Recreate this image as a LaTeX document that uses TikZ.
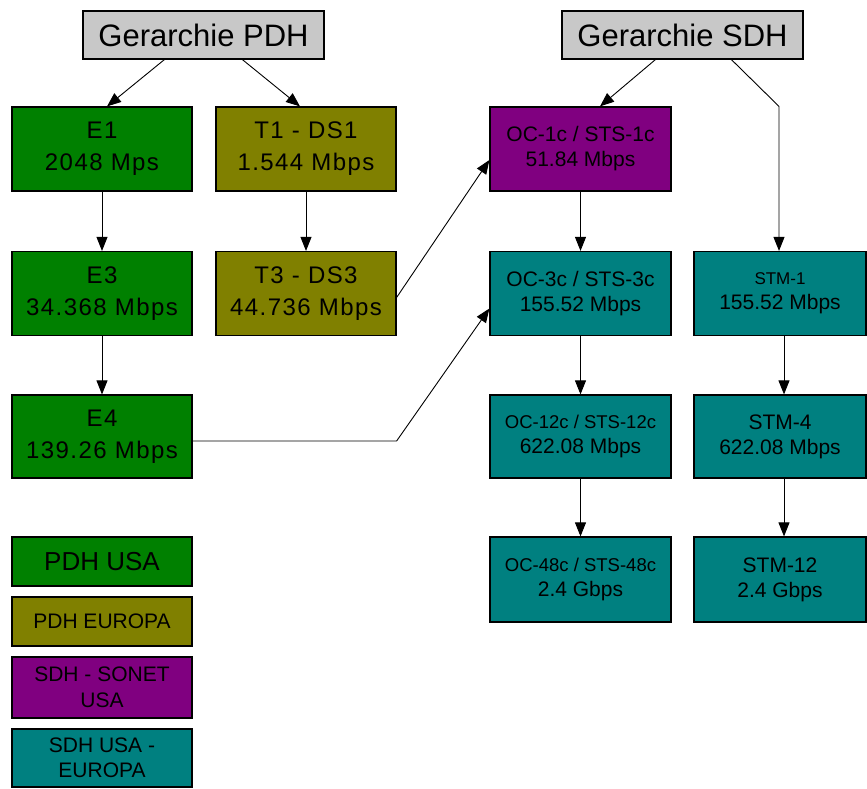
\documentclass[tikz,border=0pt]{standalone}
\usepackage{fontspec}
\setmainfont{Liberation Sans}
\newfontfamily\spacedfont[LetterSpace=6]{Liberation Sans}
\usetikzlibrary{arrows.meta,calc}
\definecolor{hdrgray}{RGB}{200,200,200}
\definecolor{pdhgreen}{RGB}{0,128,0}
\definecolor{pdholive}{RGB}{128,128,0}
\definecolor{sonetpurple}{RGB}{128,0,128}
\definecolor{sdhteal}{RGB}{0,128,128}
\tikzset{
  box/.style={draw=black, line width=1.2pt, inner sep=0pt, align=center, text=black},
  hdr/.style={box, fill=hdrgray, minimum width=241pt, minimum height=48pt,
    font=\fontsize{31}{36}\selectfont},
  pdhbox/.style={box, minimum width=180pt, minimum height=84pt,
    font=\spacedfont\fontsize{24}{32}\selectfont},
  sdhbox/.style={box, minimum height=84pt,
    font=\fontsize{21}{25}\selectfont},
  legendbox/.style={box, minimum width=180pt, font=\fontsize{21}{26}\selectfont},
  conn/.style={draw=black, line width=0.9pt},
  arr/.style={conn, -{Triangle[width=11pt,length=14pt]}},
}
\begin{document}
\begin{tikzpicture}[x=1pt,y=-1pt]
\useasboundingbox (0,0) rectangle (867,789);
% headers
\node[hdr] (pdh) at (203.5,35) {Gerarchie PDH};
\node[hdr] (sdh) at (682.5,35) {Gerarchie SDH};
% PDH column
\node[pdhbox, fill=pdhgreen] (e1) at (102,149) {E1\\2048 Mps};
\node[pdhbox, fill=pdholive] (t1) at (306,149) {T1 - DS1\\1.544 Mbps};
\node[pdhbox, fill=pdhgreen] (e3) at (102,293.5) {E3\\34.368 Mbps};
\node[pdhbox, fill=pdholive] (t3) at (306,293.5) {T3 - DS3\\44.736 Mbps};
\node[pdhbox, fill=pdhgreen, minimum height=83pt] (e4) at (102,436.5) {E4\\139.26 Mbps};
% SDH column
\node[sdhbox, fill=sonetpurple, minimum width=181pt] (oc1) at (580.5,149) {OC-1c / STS-1c\\51.84 Mbps};
\node[sdhbox, fill=sdhteal, minimum width=181pt] (oc3) at (580.5,293.5) {OC-3c / STS-3c\\155.52 Mbps};
\node[sdhbox, fill=sdhteal, minimum width=181pt, minimum height=83pt] (oc12) at (580.5,436.5) {{\fontsize{18.5}{25}\selectfont OC-12c / STS-12c}\\622.08 Mbps};
\node[sdhbox, fill=sdhteal, minimum width=181pt, minimum height=85pt] (oc48) at (580.5,579.5) {{\fontsize{18.5}{25}\selectfont OC-48c / STS-48c}\\2.4 Gbps};
\node[sdhbox, fill=sdhteal, minimum width=172pt] (stm1) at (780,293.5) {{\fontsize{17}{25}\selectfont STM-1}\\155.52 Mbps};
\node[sdhbox, fill=sdhteal, minimum width=172pt, minimum height=83pt] (stm4) at (780,436.5) {STM-4\\622.08 Mbps};
\node[sdhbox, fill=sdhteal, minimum width=172pt, minimum height=85pt] (stm12) at (780,579.5) {STM-12\\2.4 Gbps};
% legend
\node[legendbox, fill=pdhgreen, minimum height=49pt, font=\fontsize{26}{30}\selectfont] (lg1) at (102,561.5) {PDH USA};
\node[legendbox, fill=pdholive, minimum height=49pt] (lg2) at (102,621.5) {PDH EUROPA};
\node[legendbox, fill=sonetpurple, minimum height=61pt] (lg3) at (102,687.5) {SDH - SONET\\USA};
\node[legendbox, fill=sdhteal, minimum height=58pt, font=\fontsize{21}{25}\selectfont] (lg4) at (102,758) {SDH USA -\\EUROPA};
% connectors
\draw[arr] ([xshift=82pt]pdh.south west) -- ([xshift=5pt]e1.north);
\draw[arr] ([xshift=160pt]pdh.south west) -- ([xshift=-6pt]t1.north);
\draw[arr] ([xshift=94pt]sdh.south west) -- ([xshift=19.5pt]oc1.north);
\draw[arr] ([xshift=170pt]sdh.south west) -- ([xshift=-1pt]stm1.north |- oc1.north) -- ([xshift=-1pt]stm1.north);
\draw[arr] (e1) -- (e3);
\draw[arr] (t1) -- (t3);
\draw[arr] (e3) -- (e4);
\draw[arr] ([yshift=-4pt]t3.east) -- ([yshift=-11pt]oc1.west);
\coordinate (e4out) at ([yshift=-4.5pt]e4.east);
\draw[arr] (e4out) -- (e4out -| t3.east) -- ([yshift=-15pt]oc3.west);
\draw[arr] (oc1) -- (oc3);
\draw[arr] (oc3) -- (oc12);
\draw[arr] (oc12) -- (oc48);
\draw[arr] ([xshift=4pt]stm1.south) -- ([xshift=4pt]stm4.north);
\draw[arr] ([xshift=4pt]stm4.south) -- ([xshift=4pt]stm12.north);
\end{tikzpicture}
\end{document}
